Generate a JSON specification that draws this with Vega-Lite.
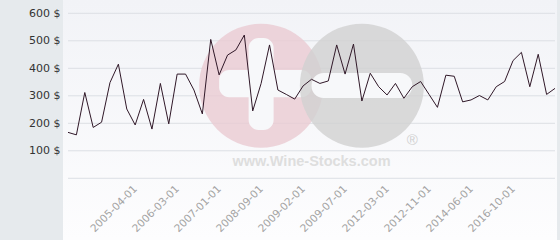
{
  "$schema": "https://vega.github.io/schema/vega-lite/v6.json",
  "width": 494,
  "height": 240,
  "autosize": {"type": "none"},
  "padding": {"left": 63, "top": 0, "right": 3, "bottom": 0},
  "background": "#e6eaed",
  "config": {"view": {"stroke": null}},
  "datasets": {
    "prices": [
      {"date": "2003-01-01", "price": 167},
      {"date": "2003-06-01", "price": 158},
      {"date": "2003-11-01", "price": 312},
      {"date": "2004-02-01", "price": 185},
      {"date": "2004-05-01", "price": 204},
      {"date": "2004-08-01", "price": 348},
      {"date": "2004-11-01", "price": 415},
      {"date": "2005-01-01", "price": 252},
      {"date": "2005-04-01", "price": 194},
      {"date": "2005-06-01", "price": 287},
      {"date": "2005-08-01", "price": 179},
      {"date": "2005-10-01", "price": 345},
      {"date": "2005-12-01", "price": 198},
      {"date": "2006-03-01", "price": 379},
      {"date": "2006-05-01", "price": 379},
      {"date": "2006-07-01", "price": 321},
      {"date": "2006-09-01", "price": 234},
      {"date": "2006-11-01", "price": 505},
      {"date": "2007-01-01", "price": 376},
      {"date": "2007-05-01", "price": 448},
      {"date": "2007-09-01", "price": 467},
      {"date": "2008-01-01", "price": 521},
      {"date": "2008-05-01", "price": 245},
      {"date": "2008-09-01", "price": 345},
      {"date": "2008-10-01", "price": 485},
      {"date": "2008-11-01", "price": 321},
      {"date": "2008-12-01", "price": 305},
      {"date": "2009-01-01", "price": 288},
      {"date": "2009-02-01", "price": 336},
      {"date": "2009-03-01", "price": 360},
      {"date": "2009-04-01", "price": 345},
      {"date": "2009-05-01", "price": 354},
      {"date": "2009-06-01", "price": 485},
      {"date": "2009-07-01", "price": 379},
      {"date": "2010-01-01", "price": 488},
      {"date": "2010-07-01", "price": 281},
      {"date": "2011-01-01", "price": 382},
      {"date": "2011-07-01", "price": 333},
      {"date": "2012-03-01", "price": 303},
      {"date": "2012-05-01", "price": 345},
      {"date": "2012-06-01", "price": 291},
      {"date": "2012-08-01", "price": 333},
      {"date": "2012-09-01", "price": 352},
      {"date": "2012-11-01", "price": 305},
      {"date": "2013-02-01", "price": 258},
      {"date": "2013-06-01", "price": 375},
      {"date": "2013-10-01", "price": 371},
      {"date": "2014-02-01", "price": 278},
      {"date": "2014-06-01", "price": 285},
      {"date": "2015-01-01", "price": 301},
      {"date": "2015-06-01", "price": 285},
      {"date": "2015-11-01", "price": 333},
      {"date": "2016-04-01", "price": 352},
      {"date": "2016-10-01", "price": 428},
      {"date": "2017-03-01", "price": 458},
      {"date": "2017-08-01", "price": 333},
      {"date": "2018-01-01", "price": 451},
      {"date": "2018-06-01", "price": 305},
      {"date": "2018-11-01", "price": 327}
    ],
    "grid": [
      {"v": 0}, {"v": 100}, {"v": 200}, {"v": 300}, {"v": 400}, {"v": 500}, {"v": 600}
    ],
    "one": [{}]
  },
  "layer": [
    {
      "data": {"name": "one"},
      "mark": {
        "type": "rect",
        "color": {
          "gradient": "linear", "x1": 0, "y1": 0, "x2": 0, "y2": 1,
          "stops": [{"offset": 0, "color": "#f2f3f7"}, {"offset": 1, "color": "#fdfdfe"}]
        }
      },
      "encoding": {}
    },
    {
      "data": {"name": "grid"},
      "mark": {"type": "rule", "color": "#dcdfe4", "strokeWidth": 1},
      "encoding": {
        "x": {"datum": "2003-01-01", "type": "ordinal"},
        "x2": {"datum": "2018-11-01"},
        "y": {"field": "v", "type": "quantitative", "title": null}
      }
    },
    {
      "data": {"name": "one"},
      "mark": {"type": "point", "shape": "circle", "filled": true, "color": "#eacad2", "opacity": 0.8, "size": 15376, "strokeWidth": 0},
      "encoding": {
        "x": {"datum": "2008-09-01", "type": "ordinal"},
        "y": {"datum": 337, "type": "quantitative"}
      }
    },
    {
      "data": {"name": "one"},
      "mark": {"type": "rect", "color": "#f7f8fa", "cornerRadius": 10},
      "encoding": {
        "x": {"datum": "2007-01-01", "type": "ordinal"},
        "x2": {"datum": "2009-03-01"},
        "y": {"datum": 394, "type": "quantitative"},
        "y2": {"datum": 295}
      }
    },
    {
      "data": {"name": "one"},
      "mark": {"type": "bar", "color": "#f7f8fa", "size": 25, "cornerRadius": 10},
      "encoding": {
        "x": {"datum": "2008-09-01", "type": "ordinal"},
        "y": {"datum": 510, "type": "quantitative"},
        "y2": {"datum": 176}
      }
    },
    {
      "data": {"name": "one"},
      "mark": {"type": "point", "shape": "circle", "filled": true, "color": "#d1d1d1", "opacity": 0.8, "size": 15376, "strokeWidth": 0},
      "encoding": {
        "x": {"datum": "2010-07-01", "type": "ordinal"},
        "y": {"datum": 337, "type": "quantitative"}
      }
    },
    {
      "data": {"name": "one"},
      "mark": {"type": "rect", "color": "#f7f8fa", "cornerRadius": 12},
      "encoding": {
        "x": {"datum": "2009-03-01", "type": "ordinal"},
        "x2": {"datum": "2012-08-01"},
        "y": {"datum": 383, "type": "quantitative"},
        "y2": {"datum": 292}
      }
    },
    {
      "data": {"name": "one"},
      "mark": {"type": "text", "text": "®", "font": "Liberation Sans", "fontSize": 15, "color": "#d0d0d0"},
      "encoding": {
        "x": {"datum": "2012-08-01", "type": "ordinal"},
        "y": {"datum": 139, "type": "quantitative"}
      }
    },
    {
      "data": {"name": "one"},
      "mark": {"type": "text", "text": "www.Wine-Stocks.com", "font": "Liberation Sans", "fontWeight": "bold", "fontSize": 14.5, "color": "#dedede"},
      "encoding": {
        "x": {"datum": "2009-03-01", "type": "ordinal"},
        "y": {"datum": 60, "type": "quantitative"}
      }
    },
    {
      "data": {"name": "prices"},
      "mark": {"type": "line", "color": "#301828", "strokeWidth": 1},
      "encoding": {
        "x": {
          "field": "date", "type": "ordinal",
          "scale": {"type": "point", "range": [5, 492], "padding": 0},
          "axis": {
            "values": ["2005-04-01", "2006-03-01", "2007-01-01", "2008-09-01", "2009-02-01", "2009-07-01", "2012-03-01", "2012-11-01", "2014-06-01", "2016-10-01"],
            "title": null, "orient": "bottom", "offset": -62, "zindex": 2,
            "domain": false, "ticks": false, "grid": false,
            "labelAngle": -45, "labelPadding": 9, "labelOverlap": false,
            "labelColor": "#a3a3a3", "labelFont": "DejaVu Sans", "labelFontSize": 10.5
          }
        },
        "y": {
          "field": "price", "type": "quantitative",
          "scale": {"domain": [-224.4, 648.4], "nice": false, "zero": false},
          "axis": {
            "values": [100, 200, 300, 400, 500, 600],
            "labelExpr": "datum.value + ' $'",
            "title": null, "domain": false, "ticks": false, "grid": false,
            "labelPadding": 3, "labelColor": "#333333", "labelFont": "DejaVu Sans", "labelFontSize": 11
          }
        }
      }
    }
  ]
}
